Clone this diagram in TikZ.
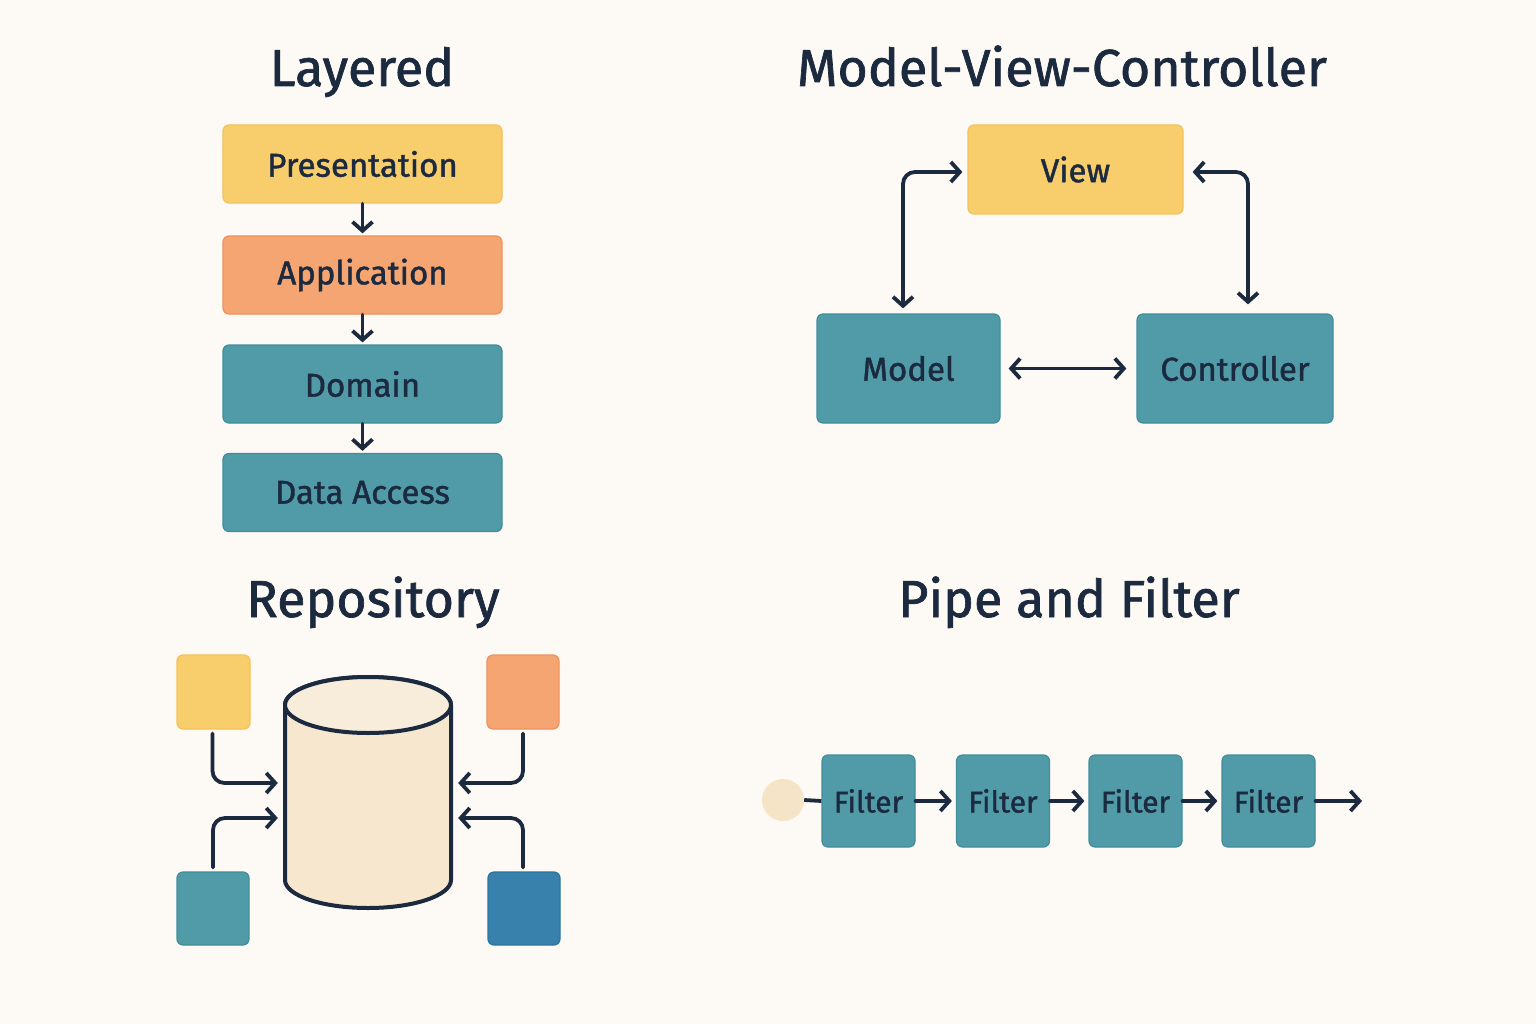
\documentclass[tikz,border=0pt]{standalone}
\usepackage{fontspec}
\setmainfont{Fira Sans}[BoldFont=Fira Sans, BoldFeatures={FakeBold=1.3}]
\usetikzlibrary{arrows.meta,calc}
\definecolor{bg}{HTML}{FDF9F4}
\definecolor{ink}{HTML}{1C2A3F}
\definecolor{yel}{HTML}{F8CD6C}
\definecolor{yelb}{HTML}{F4C25A}
\definecolor{ora}{HTML}{F4A571}
\definecolor{orab}{HTML}{EE935E}
\definecolor{teal}{HTML}{519BA8}
\definecolor{tealb}{HTML}{3E8E9B}
\definecolor{blu}{HTML}{3781AC}
\definecolor{blub}{HTML}{2C74A0}
\definecolor{cyl}{HTML}{F8E7CF}
\definecolor{cyltop}{HTML}{F8ECDA}
\definecolor{circ}{HTML}{F6E4C6}
\tikzset{
  box/.style={rounded corners=6pt, line width=1.2pt, text=ink, inner sep=0pt},
  ybox/.style={box, fill=yel, draw=yelb},
  obox/.style={box, fill=ora, draw=orab},
  tbox/.style={box, fill=teal, draw=tealb},
  bbox/.style={box, fill=blu, draw=blub},
  lay/.style={minimum width=279pt, minimum height=78pt, font=\fontsize{33}{40}\selectfont\bfseries},
  ttl/.style={text=ink, anchor=base, font=\fontsize{52}{62}\selectfont\bfseries},
  tip/.style={Straight Barb[length=9pt,width=20pt,line width=3.8pt]},
  arr/.style={draw=ink, line width=3.8pt, line cap=round, -{Straight Barb[length=9pt,width=20pt,line width=3.8pt]}},
  darr/.style={draw=ink, line width=3.8pt, line cap=round, rounded corners=12pt, {Straight Barb[length=9pt,width=20pt,line width=3.8pt]}-{Straight Barb[length=9pt,width=20pt,line width=3.8pt]}},
  filt/.style={tbox, minimum width=93pt, minimum height=92pt, font=\fontsize{30}{36}\selectfont\bfseries},
}
\begin{document}
\begin{tikzpicture}[x=1pt,y=-1pt]
\fill[bg] (0,0) rectangle (1536,1024);
\useasboundingbox (0,0) rectangle (1536,1024);

% ---------- Layered ----------
\node[ttl] (tlay) at (362,86) {Layered};
\node[ybox,lay] (pres) at (362.5,164) {Presentation};
\node[obox,lay] (app) at (362.5,275) {Application};
\node[tbox,lay] (dom) at (362.5,384) {Domain};
\node[tbox,lay] (dat) at (362.5,492.5) {Data Access};
\draw[arr, shorten >=2pt] (pres.south) -- (app.north);
\draw[arr, shorten >=2pt] (app.south) -- (dom.north);
\draw[arr, shorten >=2pt] (dom.south) -- (dat.north);

% ---------- MVC ----------
\node[ttl] (tmvc) at (1062,86) {Model-View-Controller};
\node[ybox, minimum width=215pt, minimum height=89pt, font=\fontsize{33}{40}\selectfont\bfseries] (view) at (1075.5,169.5) {View};
\node[tbox, minimum width=183pt, minimum height=109pt, font=\fontsize{33}{40}\selectfont\bfseries] (model) at (908.5,368.5) {Model};
\node[tbox, minimum width=196pt, minimum height=109pt, font=\fontsize{33}{40}\selectfont\bfseries] (ctrl) at (1235,368.5) {Controller};
\draw[darr, shorten <=5pt, shorten >=5pt] ([xshift=-5.5pt]model.north) |- ([yshift=-2.5pt]view.west);
\draw[darr, shorten <=9pt, shorten >=9pt] ([yshift=-2.5pt]view.east) -| ([xshift=13pt]ctrl.north);
\draw[darr, shorten <=8pt, shorten >=10pt] (model.east) -- (ctrl.west);

% ---------- Repository ----------
\node[ttl] (trep) at (373,617) {Repository};
\node[inner sep=0pt, minimum width=166pt, minimum height=231pt] (db) at (368,792.5) {};
\filldraw[fill=cyl, draw=ink, line width=4pt]
  (285,705) -- (285,880)
  arc[start angle=180, end angle=360, x radius=83pt, y radius=28pt]
  -- (451,705)
  arc[start angle=0, end angle=180, x radius=83pt, y radius=28pt] -- cycle;
\filldraw[fill=cyltop, draw=ink, line width=4pt] (368,705) ellipse[x radius=83pt, y radius=28pt];
\node[ybox, minimum width=73pt, minimum height=74pt] (sq1) at (213.5,692) {};
\node[obox, minimum width=72pt, minimum height=74pt] (sq2) at (523,692) {};
\node[tbox, minimum width=72pt, minimum height=73pt] (sq3) at (213,908.5) {};
\node[bbox, minimum width=72pt, minimum height=73pt] (sq4) at (524,908.5) {};
\draw[arr, rounded corners=12pt, shorten <=4pt, shorten >=7pt] ([xshift=-1pt]sq1.south) |- ([yshift=9.5pt]db.west);
\draw[arr, rounded corners=12pt, shorten <=4pt, shorten >=7pt] (sq3.north) |- ([yshift=-25.5pt]db.west);
\draw[arr, rounded corners=12pt, shorten <=4pt, shorten >=7pt] (sq2.south) |- ([yshift=9.5pt]db.east);
\draw[arr, rounded corners=12pt, shorten <=4pt, shorten >=7pt] ([xshift=-1pt]sq4.north) |- ([yshift=-25.5pt]db.east);

% ---------- Pipe and Filter ----------
\node[ttl] (tpipe) at (1069,617) {Pipe and Filter};
\node[circle, fill=circ, minimum size=42pt, inner sep=0pt] (src) at (783,800) {};
\node[filt] (f1) at (868.5,801) {Filter};
\node[filt] (f2) at (1003,801) {Filter};
\node[filt] (f3) at (1135.5,801) {Filter};
\node[filt] (f4) at (1268.5,801) {Filter};
\coordinate (sink) at (1362,801);
\draw[draw=ink, line width=3.8pt] (src.east) -- (f1.west);
\draw[arr, shorten >=4pt] (f1.east) -- (f2.west);
\draw[arr, shorten >=4pt] (f2.east) -- (f3.west);
\draw[arr, shorten >=4pt] (f3.east) -- (f4.west);
\draw[arr] (f4.east) -- (sink);
\end{tikzpicture}
\end{document}
